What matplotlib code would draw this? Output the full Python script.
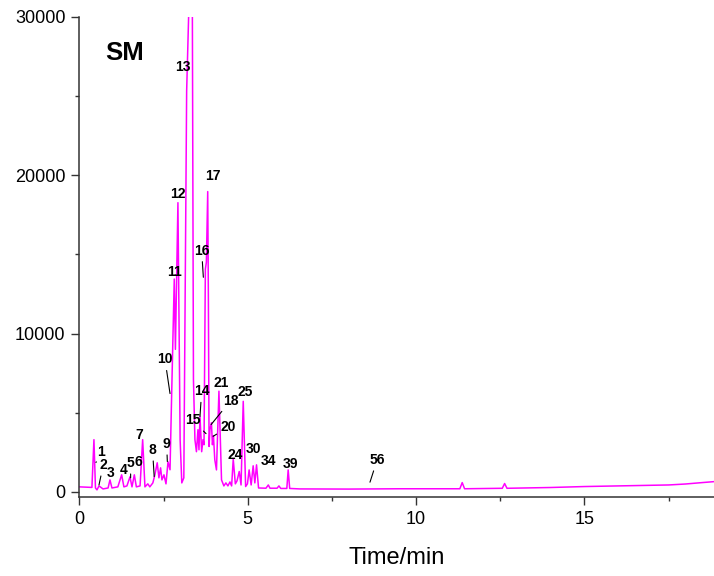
import matplotlib
matplotlib.use('Agg')
import matplotlib.pyplot as plt
from matplotlib.ticker import MultipleLocator

plt.rcParams['font.family'] = ['Liberation Sans', 'DejaVu Sans']

# chromatogram trace (time in min, intensity)
time = [0.00, 0.37, 0.43, 0.475, 0.52, 0.58, 0.70, 0.85, 0.906, 0.965,
        1.14, 1.253, 1.32, 1.41, 1.50, 1.56, 1.63, 1.69, 1.80, 1.877,
        1.945, 2.03, 2.09, 2.18, 2.24, 2.31, 2.36, 2.41, 2.45, 2.51,
        2.57, 2.63, 2.69, 2.74, 2.816, 2.85, 2.925, 2.99, 3.04, 3.10,
        3.184, 3.28, 3.35, 3.386, 3.43, 3.475, 3.52, 3.55, 3.58, 3.63,
        3.67, 3.70, 3.74, 3.77, 3.81, 3.83, 3.85, 3.876, 3.92, 3.95,
        3.98, 4.02, 4.07, 4.143, 4.22, 4.29, 4.35, 4.41, 4.47, 4.52,
        4.568, 4.63, 4.68, 4.746, 4.80, 4.865, 4.936, 4.99, 5.04, 5.10,
        5.16, 5.21, 5.26, 5.32, 5.54, 5.61, 5.66, 5.87, 5.925, 5.98,
        6.16, 6.20, 6.245, 6.55, 8.0, 9.5, 11.3, 11.37, 11.44, 12.56,
        12.63, 12.70, 14.0, 15.0, 16.5, 17.5, 18.0, 18.5, 18.85]
intensity = [320, 285, 3300, 250, 130, 380, 190, 250, 760, 250,
             320, 1080, 320, 380, 950, 320, 1080, 320, 380, 3300,
             320, 510, 320, 570, 1080, 1840, 890, 1520, 760, 1080,
             510, 1900, 1400, 6280, 13440, 9000, 18260, 3300, 570, 890,
             25300, 33000, 33000, 7100, 3300, 2540, 3930, 2660, 4770, 2540,
             3300, 2980, 14070, 14500, 18960, 12170, 2870, 3930, 4370, 2980,
             3550, 2030, 1390, 6360, 760, 380, 570, 380, 630, 380,
             2070, 510, 700, 1290, 440, 5720, 340, 510, 1390, 440,
             1650, 570, 1710, 250, 235, 440, 235, 235, 380, 220,
             220, 1390, 220, 190, 180, 200, 200, 590, 200, 230,
             530, 230, 280, 340, 400, 440, 500, 590, 650]

# peak labels: text position and optional leader end (None = no leader)
peak_names = ['1', '2', '3', '4', '5', '6', '7', '8', '9', '10', '11', '12', '13',
              '14', '15', '16', '17', '18', '20', '21', '24', '25', '30', '34', '39', '56']
label_x = [0.63, 0.707, 0.936, 1.30, 1.52, 1.76, 1.77, 2.17, 2.59, 2.54, 2.815, 2.92, 3.065,
           3.63, 3.36, 3.63, 3.956, 4.49, 4.42, 4.20, 4.62, 4.93, 5.17, 5.62, 6.28, 8.845]
label_y = [2520, 1710, 1220, 1390, 1840, 1880, 3610, 2660, 3040, 8370, 13900, 18830, 26800,
           6360, 4520, 15240, 19950, 5770, 4100, 6890, 2350, 6300, 2700, 1950, 1780, 2030]
leader_end = [(0.49, 1860), (0.58, 440), None, None, (1.52, 890), None, None,
              (2.22, 970), (2.61, 1920), (2.69, 6210), None, None, None,
              (3.58, 4770), (3.76, 3680), (3.68, 13550), None, (3.91, 4250),
              (3.97, 3510), None, None, None, None, None, None, (8.63, 615)]

fig = plt.figure(figsize=(7.14, 5.76), dpi=100)
ax = fig.add_axes([0.1113, 0.1377, 0.8887, 0.8333])

ax.plot(time, intensity, color='#ff00ff', lw=1.1)

for name, x, y, end in zip(peak_names, label_x, label_y, leader_end):
    if end is None:
        ax.text(x, y, name, fontsize=10, fontweight='bold', ha='center', va='center')
    else:
        ax.annotate(name, xy=end, xytext=(x, y), fontsize=10, fontweight='bold',
                    ha='center', va='center',
                    arrowprops=dict(arrowstyle='-', lw=0.8, color='k',
                                    shrinkA=1, shrinkB=0))

ax.text(0.04, 0.925, 'SM', transform=ax.transAxes, fontsize=18.5, fontweight='bold',
        ha='left', va='center')

ax.set_xlim(0, 18.85)
ax.set_ylim(-300, 30000)
ax.set_yticks([0, 10000, 20000, 30000])
ax.xaxis.set_major_locator(MultipleLocator(5))
ax.xaxis.set_minor_locator(MultipleLocator(2.5))
ax.yaxis.set_minor_locator(MultipleLocator(5000))
ax.tick_params(which='major', direction='out', length=6, width=1, labelsize=13, pad=4,
               color='#333333')
ax.tick_params(which='minor', direction='out', length=3, width=1, color='#333333')
ax.spines['top'].set_visible(False)
ax.spines['right'].set_visible(False)
for s in ['left', 'bottom']:
    ax.spines[s].set_linewidth(1.1)
    ax.spines[s].set_color('#333333')
ax.set_xlabel('Time/min', fontsize=17, labelpad=14)

fig.savefig('out.png', dpi=100)
